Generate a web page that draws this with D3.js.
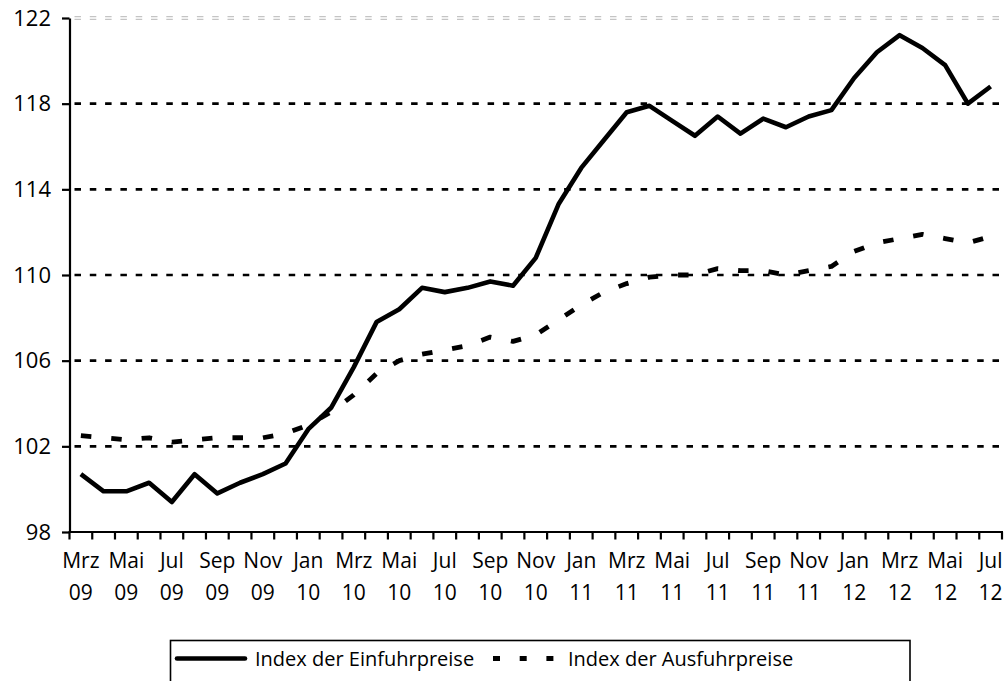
<!DOCTYPE html>
<html>
<head>
<meta charset="utf-8">
<script src="https://cdn.jsdelivr.net/npm/d3@7/dist/d3.min.js"></script>
<style>
  html, body { margin: 0; padding: 0; background: #fff; }
  svg { display: block; }
  text { font-family: "Open Sans", sans-serif; fill: #000; }
</style>
</head>
<body>
<svg id="chart" width="1007" height="681"></svg>
<script>
// ---- data ----
const categories = [
  "Mrz 09","Apr 09","Mai 09","Jun 09","Jul 09","Aug 09","Sep 09","Okt 09","Nov 09","Dez 09",
  "Jan 10","Feb 10","Mrz 10","Apr 10","Mai 10","Jun 10","Jul 10","Aug 10","Sep 10","Okt 10","Nov 10","Dez 10",
  "Jan 11","Feb 11","Mrz 11","Apr 11","Mai 11","Jun 11","Jul 11","Aug 11","Sep 11","Okt 11","Nov 11","Dez 11",
  "Jan 12","Feb 12","Mrz 12","Apr 12","Mai 12","Jun 12","Jul 12"
];
const einfuhr = [
  100.7, 99.9, 99.9, 100.3, 99.4, 100.7, 99.8, 100.3, 100.7, 101.2,
  102.8, 103.8, 105.7, 107.8, 108.4, 109.4, 109.2, 109.4, 109.7, 109.5, 110.8, 113.3,
  115.0, 116.3, 117.6, 117.9, 117.2, 116.5, 117.4, 116.6, 117.3, 116.9, 117.4, 117.7,
  119.2, 120.4, 121.2, 120.6, 119.8, 118.0, 118.8
];
const ausfuhr = [
  102.5, 102.4, 102.3, 102.4, 102.2, 102.3, 102.4, 102.4, 102.4, 102.6,
  103.0, 103.6, 104.4, 105.4, 106.0, 106.3, 106.5, 106.7, 107.1, 106.9, 107.2, 107.9,
  108.6, 109.2, 109.6, 109.9, 110.0, 110.0, 110.3, 110.2, 110.2, 110.0, 110.2, 110.4,
  111.1, 111.5, 111.7, 111.9, 111.7, 111.5, 111.8
];
const yTicks = [98, 102, 106, 110, 114, 118, 122];
const seriesNames = ["Index der Einfuhrpreise", "Index der Ausfuhrpreise"];

// ---- layout ----
const svg = d3.select("#chart");
const pL = 69.5, pR = 1002, pT = 18, pB = 532;

const x = d3.scaleBand().domain(d3.range(categories.length)).range([pL, pR]).padding(0);
const y = d3.scaleLinear().domain([98, 122]).range([pB, pT]);
const cx = i => x(i) + x.bandwidth() / 2;

// grid lines
svg.append("g").selectAll("line")
  .data(yTicks.filter(t => t > 98 && t < 122))
  .join("line")
  .attr("x1", pL + 1).attr("x2", pR - 2)
  .attr("y1", d => y(d)).attr("y2", d => y(d))
  .attr("stroke", "#000").attr("stroke-width", 2.6)
  .attr("stroke-dasharray", "6.5,8.8").attr("stroke-dashoffset", -4);

// top grey double line
[-1.4, 1.4].forEach(off => {
  svg.append("line")
    .attr("x1", pL + 1).attr("x2", pR - 2)
    .attr("y1", y(122) + off).attr("y2", y(122) + off)
    .attr("stroke", "#c4c4c4").attr("stroke-width", 1.1)
    .attr("stroke-dasharray", "6.5,8.8").attr("stroke-dashoffset", -4);
});

// y axis
const yAxis = d3.axisLeft(y).tickValues(yTicks).tickSize(7.5).tickSizeOuter(0).tickPadding(11);
const gy = svg.append("g").attr("transform", `translate(${pL},0)`).call(yAxis);
gy.select(".domain").attr("stroke", "#000").attr("stroke-width", 2.2);
gy.selectAll(".tick line").attr("stroke", "#000").attr("stroke-width", 2.2);
gy.selectAll(".tick text").attr("font-size", 22).attr("font-family", "'Open Sans', sans-serif").attr("fill", "#000");

// x axis (ticks at band boundaries)
const bounds = d3.range(categories.length + 1).map(i => pL + i * x.bandwidth());
const gx = svg.append("g");
gx.append("line").attr("x1", pL - 1).attr("x2", pR + 1).attr("y1", pB).attr("y2", pB)
  .attr("stroke", "#000").attr("stroke-width", 2.2);
gx.selectAll("line.tk").data(bounds).join("line").attr("class", "tk")
  .attr("x1", d => d).attr("x2", d => d).attr("y1", pB).attr("y2", pB + 7.5)
  .attr("stroke", "#000").attr("stroke-width", 2.2);
const lbl = gx.selectAll("text.xl").data(categories.map((c, i) => ({c, i})).filter(d => d.i % 2 === 0))
  .join("text").attr("class", "xl").attr("text-anchor", "middle").attr("font-size", 21);
lbl.append("tspan").attr("x", d => cx(d.i)).attr("y", 568).text(d => d.c.split(" ")[0]);
lbl.append("tspan").attr("x", d => cx(d.i)).attr("y", 600).text(d => d.c.split(" ")[1]);

// lines
const line = d3.line().x((d, i) => cx(i)).y(d => y(d));
svg.append("path").datum(ausfuhr).attr("d", line)
  .attr("fill", "none").attr("stroke", "#000").attr("stroke-width", 4.8)
  .attr("stroke-dasharray", "10.5,20").attr("stroke-linejoin", "round");
svg.append("path").datum(einfuhr).attr("d", line)
  .attr("fill", "none").attr("stroke", "#000").attr("stroke-width", 4.6)
  .attr("stroke-linejoin", "round");

// legend
const lg = svg.append("g");
lg.append("rect").attr("x", 170.5).attr("y", 640.5).attr("width", 739.5).attr("height", 60)
  .attr("fill", "#fff").attr("stroke", "#000").attr("stroke-width", 1.6);
lg.append("line").attr("x1", 177).attr("x2", 245).attr("y1", 658.5).attr("y2", 658.5)
  .attr("stroke", "#000").attr("stroke-width", 4.6).attr("stroke-linecap", "round");
lg.append("text").attr("x", 255).attr("y", 666).attr("font-size", 20).text(seriesNames[0]);
lg.append("line").attr("x1", 493).attr("x2", 554).attr("y1", 658.5).attr("y2", 658.5)
  .attr("stroke", "#000").attr("stroke-width", 4.8).attr("stroke-dasharray", "7,19.7");
lg.append("text").attr("x", 568).attr("y", 666).attr("font-size", 20).text(seriesNames[1]);
</script>
</body>
</html>
